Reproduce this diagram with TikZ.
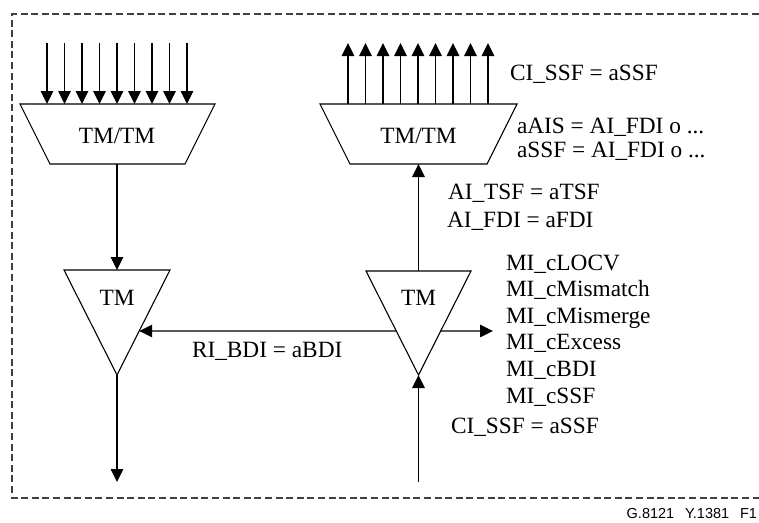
\documentclass[tikz,border=0pt]{standalone}
\usepackage{fontspec}
\setmainfont{Liberation Serif}
\newfontfamily\footfont{Liberation Sans}
\usetikzlibrary{arrows.meta,calc}
\begin{document}
\begin{tikzpicture}[x=1pt,y=-1pt,
  every node/.style={inner sep=0pt,outer sep=0pt,font=\fontsize{23.3}{27}\selectfont},
  shp/.style={draw=black,line width=1.1pt},
  conn/.style={draw=black,line width=1.1pt,-{Triangle[length=13pt,width=12.5pt]}},
  frame/.style={draw=black!75,line width=1.2pt,dash pattern=on 7pt off 3.6pt},
  lbl/.style={anchor=base west}]
\useasboundingbox (0,0) rectangle (759,522);
% frame
\draw[frame] (759,14) -- (12,14) -- (12,498) -- (759,498);
% left trapezoid
\coordinate (LTtl) at (20,104); \coordinate (LTtr) at (215,104);
\coordinate (LTbr) at (185,164); \coordinate (LTbl) at (50,164);
\draw[shp] (LTtl) -- (LTtr) -- (LTbr) -- (LTbl) -- cycle;
\node (LTtext) at (117,136) {TM/TM};
% right trapezoid
\coordinate (RTtl) at (320,104); \coordinate (RTtr) at (517,104);
\coordinate (RTbr) at (487,164); \coordinate (RTbl) at (350,164);
\draw[shp] (RTtl) -- (RTtr) -- (RTbr) -- (RTbl) -- cycle;
\node (RTtext) at (418.5,136) {TM/TM};
% left triangle
\coordinate (LGl) at (64,270); \coordinate (LGr) at (170,270); \coordinate (LGa) at (117,375);
\draw[shp] (LGl) -- (LGr) -- (LGa) -- cycle;
\node (LGtext) at (117,298) {TM};
% right triangle
\coordinate (RGl) at (366,271); \coordinate (RGr) at (471,271); \coordinate (RGa) at (418.5,375);
\draw[shp] (RGl) -- (RGr) -- (RGa) -- cycle;
\node (RGtext) at (418.5,298) {TM};
% input / output arrow arrays
\foreach \i in {0,...,8} {
  \coordinate (li\i) at ({47+17.5*\i},43);
  \coordinate (lo\i) at ({47+17.5*\i},104);
  \draw[conn] (li\i) -- (lo\i);
  \coordinate (ri\i) at ({348+17.5*\i},104);
  \coordinate (ro\i) at ({348+17.5*\i},43);
  \draw[conn] (ri\i) -- (ro\i);
}
% left vertical connectors
\coordinate (LTb) at (117,164); \coordinate (LGt) at (117,270);
\draw[conn] (LTb) -- (LGt);
\coordinate (Lend) at (117,482);
\draw[conn] (LGa) -- (Lend);
% right vertical connectors
\coordinate (Rstart) at (418.5,482);
\draw[conn] (Rstart) -- (RGa);
\coordinate (RGt) at (418.5,271); \coordinate (RTb) at (418.5,164);
\draw[conn] (RGt) -- (RTb);
% RI_BDI
\coordinate (bdiS) at ($(RGl)!0.577!(RGa)$);
\coordinate (bdiE) at ($(LGr)!0.581!(LGa)$);
\draw[conn] (bdiS) -- (bdiE);
% MI out
\coordinate (miS) at ($(RGr)!0.577!(RGa)$);
\coordinate (miE) at (493,331);
\draw[conn] (miS) -- (miE);
% labels
\node[lbl] (ci1) at (510,80) {CI\_SSF = aSSF};
\node[lbl] (ais) at (517,133) {aAIS = AI\_FDI o ...};
\node[lbl] (ssf) at (517,157) {aSSF = AI\_FDI o ...};
\node[lbl] (tsf) at (448,199) {AI\_TSF = aTSF};
\node[lbl] (fdi) at (447,227) {AI\_FDI = aFDI};
\node[lbl] (m1) at (506,270) {MI\_cLOCV};
\node[lbl] (m2) at (506,296.6) {MI\_cMismatch};
\node[lbl] (m3) at (506,323.2) {MI\_cMismerge};
\node[lbl] (m4) at (506,349.8) {MI\_cExcess};
\node[lbl] (m5) at (506,376.4) {MI\_cBDI};
\node[lbl] (m6) at (506,403) {MI\_cSSF};
\node[lbl] (ci2) at (451,433) {CI\_SSF = aSSF};
\node[lbl] (bdi) at (192,357) {RI\_BDI = aBDI};
\node[anchor=base east,font=\footfont\fontsize{14.5}{16}\selectfont] (foot) at (757,518) {G.8121\hspace{0.75em}Y.1381\hspace{0.75em}F1};
\end{tikzpicture}
\end{document}
